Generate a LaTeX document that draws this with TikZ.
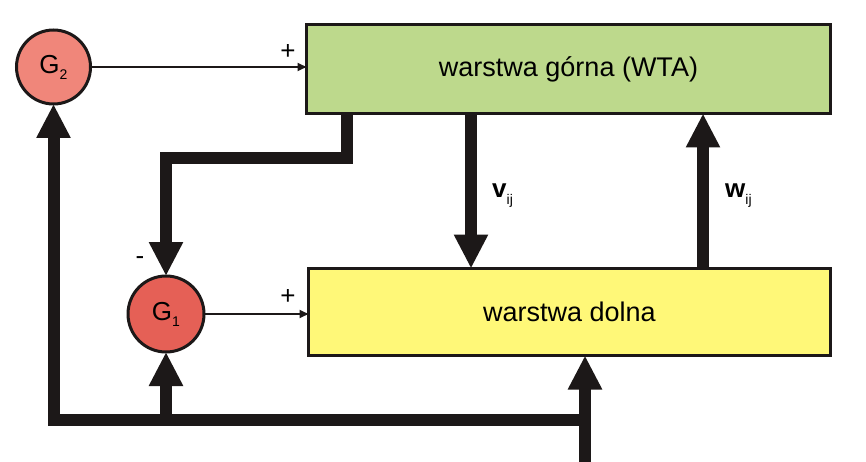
\documentclass[tikz,border=0pt]{standalone}
\usepackage{fontspec}
\setmainfont{Liberation Sans}
\usetikzlibrary{arrows.meta,calc}
\definecolor{edge}{RGB}{28,24,24}
\definecolor{topfill}{RGB}{189,217,140}
\definecolor{botfill}{RGB}{255,248,120}
\definecolor{gtwo}{RGB}{240,134,122}
\definecolor{gone}{RGB}{229,96,86}
\newcommand{\lowsub}[1]{\raisebox{-6pt}{\fontsize{14}{14}\selectfont\mdseries #1}}
\begin{document}
\begin{tikzpicture}[x=1pt,y=-1pt,
  layerbox/.style={draw=edge,line width=3pt,rectangle,outer sep=0pt,inner sep=0pt,
    font=\fontsize{27}{32}\selectfont},
  gcircle/.style={draw=edge,line width=3pt,circle,outer sep=0pt,inner sep=0pt,
    minimum size=74pt,font=\fontsize{26}{28}\selectfont},
  bigarrow/.style={draw=edge,line width=12pt,-{Triangle[length=34pt,width=32pt]}},
  bigline/.style={draw=edge,line width=12pt},
  thinarrow/.style={draw=edge,line width=2pt,-{Triangle[length=9pt,width=8pt]}},
  sign/.style={font=\fontsize{26}{28}\selectfont,inner sep=0pt},
  weight/.style={font=\fontsize{26}{28}\selectfont\bfseries,inner sep=0pt,anchor=base west}]
\useasboundingbox (0,0) rectangle (866,462);
\fill[white] (0,0) rectangle (866,462);

% layers
\node[layerbox,fill=topfill,minimum width=524pt,minimum height=89pt] (gorna) at (568.5,69) {warstwa górna (WTA)};
\node[layerbox,fill=botfill,minimum width=522pt,minimum height=87pt] (dolna) at (569.5,312) {warstwa dolna};

% gain circles
\node[gcircle,fill=gtwo] (G2) at (53.5,67) {G\lowsub{2}};
\node[gcircle,fill=gone,minimum size=76pt] (G1) at (166,314) {G\lowsub{1}};

% coordinates
\coordinate (vx) at (471,0);
\coordinate (wx) at (703,0);
\coordinate (ux) at (347,0);
\coordinate (src) at (585,470);
\coordinate (j1) at (585,420);
\coordinate (c1) at (53.5,420);
\coordinate (j2) at (166,420);

% thin input arrows
\draw[thinarrow] (G2.east) -- (G2.east -| gorna.west);
\draw[thinarrow] (G1.east) -- (G1.east -| dolna.west);
\node[sign] (p1) at (288,52) {+};
\node[sign] (p2) at (288,297) {+};
\node[sign] (m1) at (140,261) {-};

% inter-layer connections
\draw[bigarrow] (gorna.south -| vx) -- (dolna.north -| vx);
\draw[bigarrow] (dolna.north -| wx) -- (gorna.south -| wx);
\node[weight] (vl) at (492,198) {v\lowsub{ij}};
\node[weight] (wl) at (725,198) {w\lowsub{ij}};

% top layer to G1
\draw[bigarrow] (gorna.south -| ux) -- ++(0,45) -| (G1.north);

% external input and feedback
\draw[bigarrow] (src) -- (src |- dolna.south);
\draw[bigarrow] (j1) -- (c1) -- (G2.south);
\draw[bigarrow] (j2) -- (G1.south);
\end{tikzpicture}
\end{document}
